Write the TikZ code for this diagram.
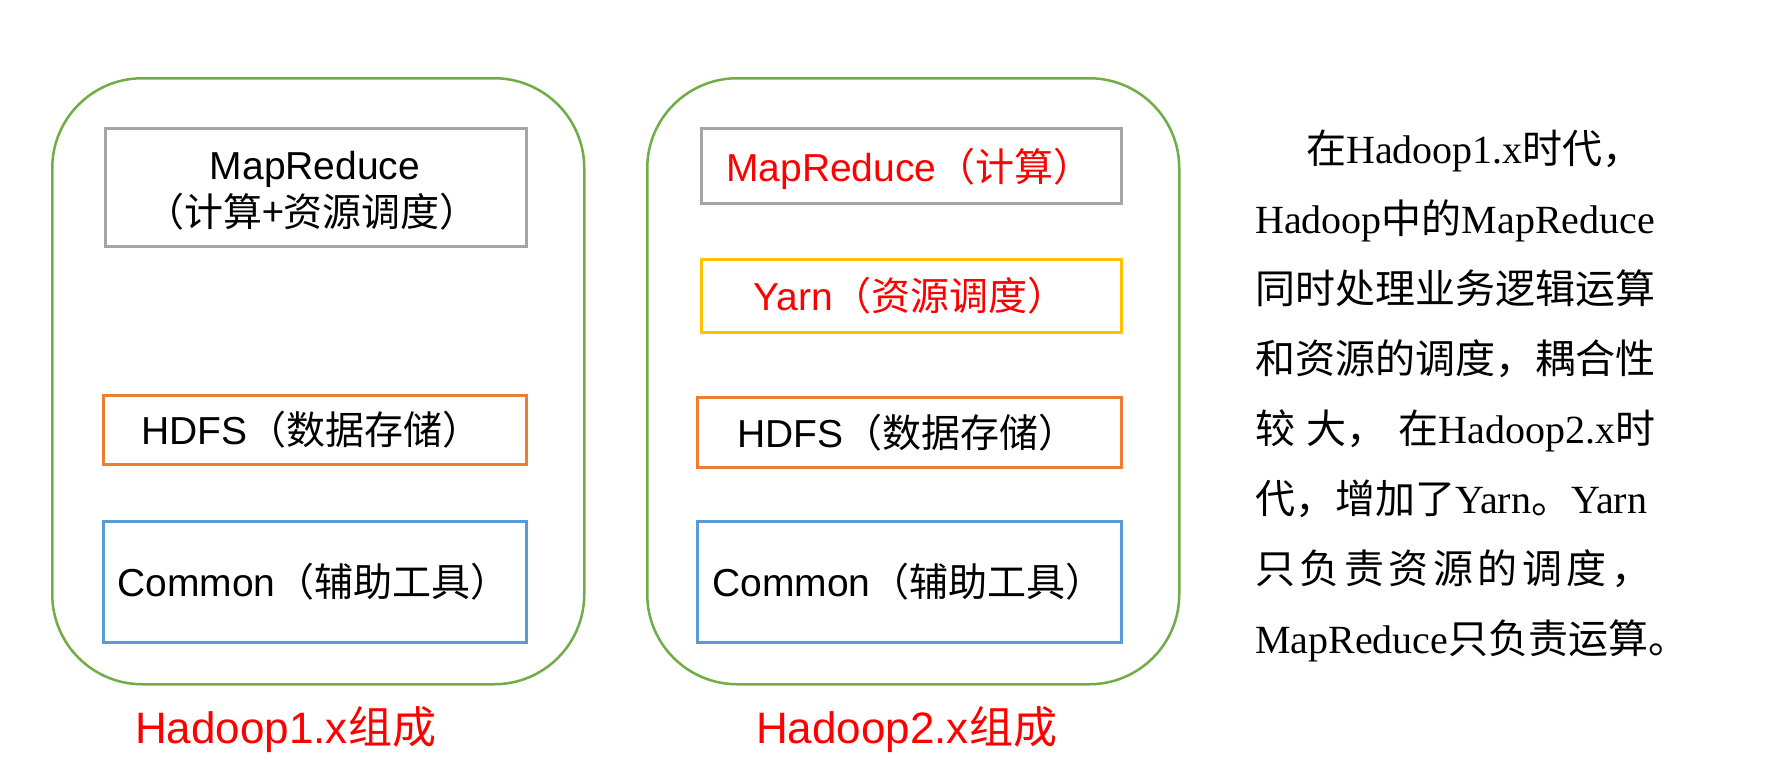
\documentclass[tikz,border=0pt]{standalone}
\usepackage{fontspec}
\setmainfont{Liberation Sans}
\newfontfamily\cjk{Noto Sans CJK SC}
\newfontfamily\tms{Liberation Serif}
\newcommand\zh[1]{{\cjk #1}}
\definecolor{fgreen}{HTML}{70AD47}
\definecolor{bgrey}{HTML}{A5A5A5}
\definecolor{borange}{HTML}{ED7D31}
\definecolor{bblue}{HTML}{5B9BD5}
\definecolor{byellow}{HTML}{FFC000}
\definecolor{tred}{HTML}{FF0000}
\begin{document}
\begin{tikzpicture}[x=1pt,y=-1pt,
  frame/.style={draw=fgreen,line width=2.5pt,rounded corners=90pt,anchor=north west,inner sep=0pt},
  layer/.style={draw=#1,line width=2.5pt,anchor=north west,inner sep=0pt},
  btext/.style={anchor=base west,inner sep=0pt,font=\fontsize{39}{46}\selectfont},
  ctext/.style={anchor=base,inner sep=0pt,font=\fontsize{39}{46}\selectfont},
  title/.style={anchor=base west,inner sep=0pt,text=tred,font=\fontsize{44}{52}\selectfont},
  para/.style={anchor=base west,inner sep=0pt,font=\fontsize{40}{48}\selectfont}
]
\useasboundingbox (0,0) rectangle (1781,779);
\fill[white] (0,0) rectangle (1781,779);

% Hadoop 1.x
\node[frame,minimum width=532pt,minimum height=606pt] (f1) at (51,77) {};
\node[layer=bgrey,minimum width=421pt,minimum height=118pt] (mr1) at (104,127) {};
\node[layer=borange,minimum width=423pt,minimum height=69pt] (hd1) at (102,394) {};
\node[layer=bblue,minimum width=423pt,minimum height=121pt] (cm1) at (102,520) {};
\node[ctext] (mr1a) at (315,179) {MapReduce};
\node[ctext] (mr1b) at (312,226) {\zh{（计算+资源调度）}};
\node[btext] (hd1t) at (141,444) {HDFS\zh{（数据存储）}};
\node[btext] (cm1t) at (117,596) {Common\zh{（辅助工具）}};
\node[title] (t1) at (135,743) {Hadoop1.x\zh{组成}};

% Hadoop 2.x
\node[frame,minimum width=532pt,minimum height=606pt] (f2) at (646,77) {};
\node[layer=bgrey,minimum width=420pt,minimum height=75pt] (mr2) at (700,127) {};
\node[layer=byellow,minimum width=420pt,minimum height=73pt] (yn2) at (700,258) {};
\node[layer=borange,minimum width=424pt,minimum height=70pt] (hd2) at (696,396) {};
\node[layer=bblue,minimum width=424pt,minimum height=121pt] (cm2) at (696,520) {};
\node[btext,text=tred] (mr2t) at (726,181) {MapReduce\zh{（计算）}};
\node[btext,text=tred] (yn2t) at (753,310) {Yarn\zh{（资源调度）}};
\node[btext] (hd2t) at (737,447) {HDFS\zh{（数据存储）}};
\node[btext] (cm2t) at (712,596) {Common\zh{（辅助工具）}};
\node[title] (t2) at (756,743) {Hadoop2.x\zh{组成}};

% explanation
\node[para] (p1) at (1306,163) {\zh{在}\tms Hadoop1.x\zh{时代，}};
\node[para] (p2) at (1255,233) {\tms Hadoop\zh{中的}MapReduce};
\node[para] (p3) at (1255,303) {\zh{同时处理业务逻辑运算}};
\node[para] (p4) at (1255,373) {\zh{和资源的调度，耦合性}};
\node[para] (p5) at (1255,443) {\makebox[400pt][s]{\zh{较}\hfil\zh{大，}\hfil\zh{在}\tms Hadoop2.x\zh{时}}};
\node[para] (p6) at (1255,513) {\zh{代，增加了}\tms Yarn\zh{。}Yarn};
\node[para] (p7) at (1255,583) {\makebox[396pt][s]{\zh{只}\hfil\zh{负}\hfil\zh{责}\hfil\zh{资}\hfil\zh{源}\hfil\zh{的}\hfil\zh{调}\hfil\zh{度}\hfil\zh{，}}};
\node[para] (p8) at (1255,653) {\tms MapReduce\zh{只负责运算。}};
\end{tikzpicture}
\end{document}
